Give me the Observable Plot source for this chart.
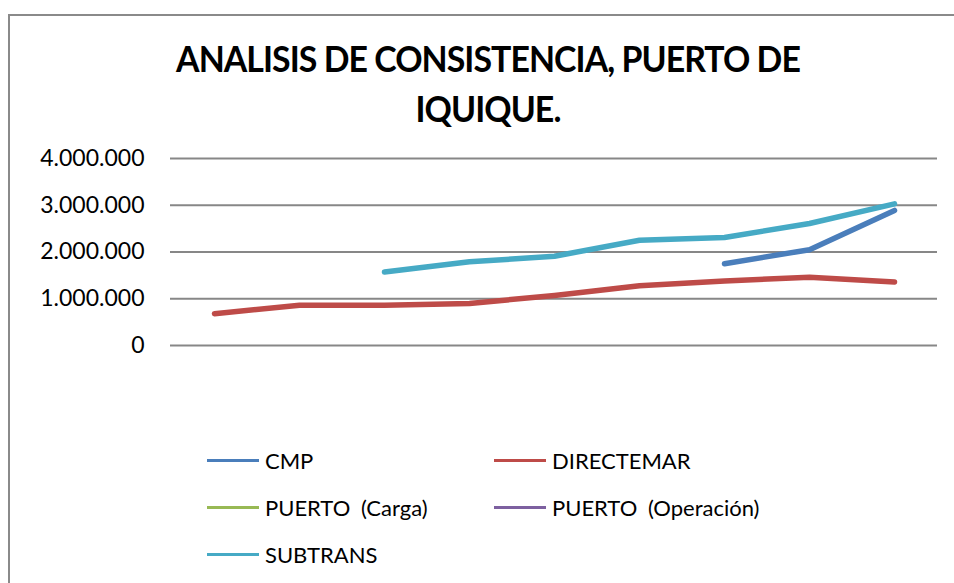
<!DOCTYPE html>
<html>
<head>
<meta charset="utf-8">
<script src="https://cdn.jsdelivr.net/npm/d3@7"></script>
<script src="https://cdn.jsdelivr.net/npm/@observablehq/plot@0.6"></script>
<style>
  html, body { margin: 0; padding: 0; background: #fff; }
  body { width: 954px; height: 583px; position: relative; overflow: hidden; font-family: Lato, "Open Sans", sans-serif; }
  #frame { position: absolute; left: 8px; top: 14px; width: 960px; height: 600px; border: 2px solid #8a8a8a; box-sizing: border-box; }
  #title { position: absolute; left: 0; width: 976px; top: 33px; text-align: center; font-weight: 700; font-size: 36px; line-height: 50px; color: #000; letter-spacing: -1px; transform: scaleX(0.94); transform-origin: 488px 0; }
  #chart { position: absolute; left: 0; top: 0; }
  .leg { position: absolute; font-size: 22px; color: #000; white-space: nowrap; display: flex; align-items: center; word-spacing: 5px; }
  .leg span.sw { display: inline-block; width: 52px; height: 3px; margin-right: 6px; }
</style>
</head>
<body>
<div id="frame"></div>
<div id="chart"></div>
<div id="title">ANALISIS DE CONSISTENCIA, PUERTO DE<br>IQUIQUE.</div>
<div id="legend"></div>
<script>
const categories = ["1", "2", "3", "4", "5", "6", "7", "8", "9"];
const seriesNames = ["CMP", "DIRECTEMAR", "PUERTO (Carga)", "PUERTO (Operación)", "SUBTRANS"];
const colors = ["#4a7ebb", "#be4b48", "#98b954", "#7d60a0", "#46aac5"];
const CMP = [null, null, null, null, null, null, 1750000, 2050000, 2890000];
const DIRECTEMAR = [680000, 860000, 860000, 900000, 1070000, 1280000, 1380000, 1460000, 1360000];
const PUERTO_CARGA = [null, null, null, null, null, null, null, null, null];
const PUERTO_OPERACION = [null, null, null, null, null, null, null, null, null];
const SUBTRANS = [null, null, 1570000, 1790000, 1910000, 2250000, 2310000, 2610000, 3030000];
const yTicks = [0, 1000000, 2000000, 3000000, 4000000];

const seriesValues = [CMP, DIRECTEMAR, PUERTO_CARGA, PUERTO_OPERACION, SUBTRANS];
const data = [];
seriesNames.forEach((s, k) => {
  seriesValues[k].forEach((v, i) => {
    if (v != null) data.push({series: s, cat: categories[i], value: v});
  });
});

const fmt = d3.formatLocale({decimal: ",", thousands: ".", grouping: [3], currency: ["", ""]}).format(",.0f");

const chart = Plot.plot({
  width: 954,
  height: 583,
  marginLeft: 170,
  marginRight: 17,
  marginTop: 158,
  marginBottom: 238,
  style: {fontFamily: "Lato, 'Open Sans', sans-serif", fontSize: "23px", color: "#000", background: "transparent", overflow: "visible"},
  x: {type: "point", domain: categories, padding: 0.5, axis: null},
  y: {domain: [0, 4000000], ticks: yTicks, tickFormat: fmt, tickSize: 0, tickPadding: 26, label: null},
  color: {domain: seriesNames, range: colors},
  marks: [
    Plot.ruleY(yTicks, {stroke: "#878787", strokeWidth: 2, strokeOpacity: 1}),
    Plot.line(data, {x: "cat", y: "value", z: "series", stroke: "series", strokeWidth: 5.5, strokeLinecap: "round", strokeLinejoin: "round"})
  ]
});
chart.querySelectorAll("[aria-label='y-axis tick label'] text").forEach(t => t.setAttribute("fill", "#000"));
document.getElementById("chart").appendChild(chart);

const legendPos = [[207, 460], [494, 460], [207, 507], [494, 507], [207, 554]];
const legend = document.getElementById("legend");
seriesNames.forEach((s, k) => {
  const d = document.createElement("div");
  d.className = "leg";
  d.style.left = legendPos[k][0] + "px";
  d.style.top = (legendPos[k][1] - 14) + "px";
  d.style.height = "28px";
  d.innerHTML = `<span class="sw" style="background:${colors[k]}"></span><span>${s}</span>`;
  legend.appendChild(d);
});
</script>
</body>
</html>
